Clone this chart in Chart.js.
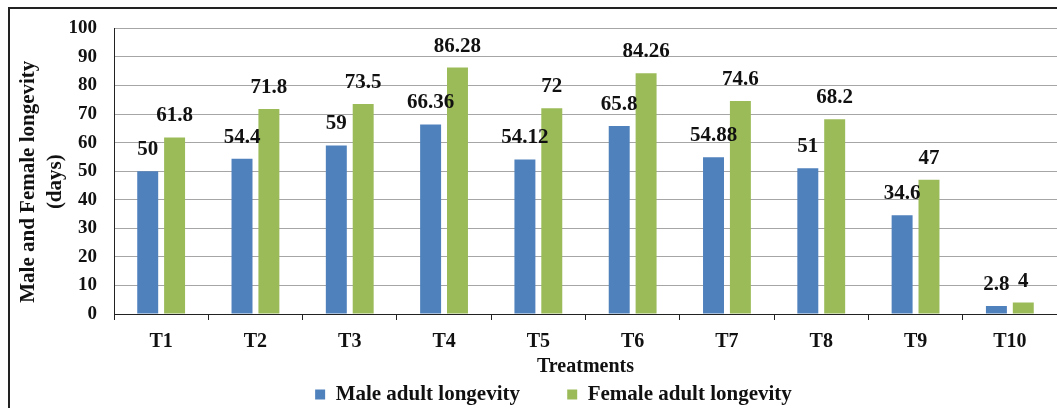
<!DOCTYPE html>
<html>
<head>
<meta charset="utf-8">
<script src="https://cdn.jsdelivr.net/npm/chart.js@4"></script>
<style>
  body { margin: 0; background: #fff; }
  #frame { position: absolute; left: 8px; top: 7px; width: 1060px; height: 420px; border: 2px solid #222; }
  #wrap { position: absolute; left: 0; top: 0; width: 1057px; height: 408px; }
</style>
</head>
<body>
<div id="frame"></div>
<div id="wrap"><canvas id="myChart"></canvas></div>
<script>
var categories = ["T1", "T2", "T3", "T4", "T5", "T6", "T7", "T8", "T9", "T10"];
var maleValues = [50, 54.4, 59, 66.36, 54.12, 65.8, 54.88, 51, 34.6, 2.8];
var femaleValues = [61.8, 71.8, 73.5, 86.28, 72, 84.26, 74.6, 68.2, 47, 4];

var FONT = "'Liberation Serif', 'Times New Roman', serif";

// labels over each bar
var barLabels = {
  id: "barLabels",
  afterDatasetsDraw: function (chart) {
    var ctx = chart.ctx;
    ctx.save();
    ctx.font = "bold 21px " + FONT;
    ctx.fillStyle = "#111";
    ctx.textAlign = "center";
    ctx.textBaseline = "alphabetic";
    chart.data.datasets.forEach(function (ds, i) {
      chart.getDatasetMeta(i).data.forEach(function (bar, j) {
        ctx.fillText(String(ds.data[j]), bar.x, bar.y - 16);
      });
    });
    ctx.restore();
  }
};

// legend sits a bit right of centre in the original
var legendShift = {
  id: "legendShift",
  afterLayout: function (chart) {
    chart.legend.left += 25;
    chart.legend.right += 25;
  }
};

var ctx = document.getElementById("myChart").getContext("2d");

var myChart = new Chart(ctx, {
  type: "bar",
  data: {
    labels: categories,
    datasets: [
      {
        label: "Male adult longevity         ",
        data: maleValues,
        backgroundColor: "#4F81BD",
        categoryPercentage: 0.57,
        barPercentage: 0.78,
      },
      {
        label: "Female adult longevity",
        data: femaleValues,
        backgroundColor: "#9BBB59",
        categoryPercentage: 0.57,
        barPercentage: 0.78,
      },
    ],
  },
  options: {
    responsive: true,
    maintainAspectRatio: false,
    animation: false,
    layout: { padding: { top: 24, right: 0, left: 0, bottom: -7 } },
    plugins: {
      legend: {
        position: "bottom",
        labels: {
          boxWidth: 10,
          boxHeight: 10,
          padding: 0,
          color: "#111",
          font: { family: FONT, size: 21, weight: "bold" },
        },
      },
      tooltip: { enabled: false },
    },
    scales: {
      x: {
        grid: { display: true, drawOnChartArea: false, drawTicks: true, tickLength: 6, color: "#222", offset: true },
        border: { color: "#222" },
        ticks: { color: "#111", padding: 10, font: { family: FONT, size: 20, weight: "bold" } },
        title: {
          display: true,
          text: "Treatments",
          color: "#111",
          padding: { top: -9, bottom: 5 },
          font: { family: FONT, size: 20, weight: "bold" },
        },
      },
      y: {
        min: 0,
        max: 100,
        afterFit: function (scale) { scale.width = 114; },
        grid: { color: "#A6A6A6", drawTicks: false },
        border: { color: "#222" },
        ticks: { stepSize: 10, color: "#111", padding: 17, font: { family: FONT, size: 19, weight: "bold" } },
        title: {
          display: true,
          text: ["Male and Female longevity    ", "(days)    "],
          color: "#111",
          padding: { top: 15, bottom: 0 },
          font: { family: FONT, size: 21, weight: "bold", lineHeight: 1.3 },
        },
      },
    },
  },
  plugins: [barLabels, legendShift],
});
</script>
</body>
</html>
